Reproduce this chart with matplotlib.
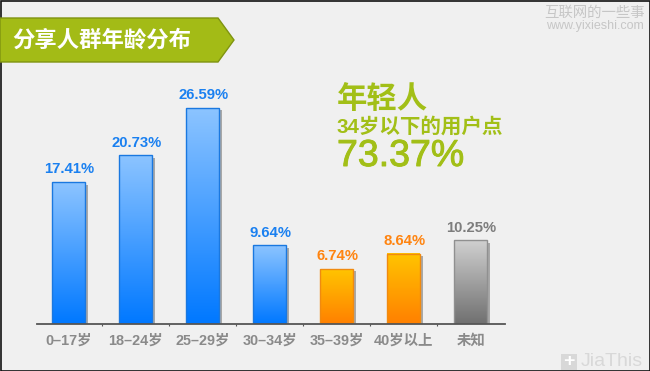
import matplotlib
matplotlib.use("Agg")
import matplotlib.pyplot as plt
import matplotlib.patheffects as pe
from matplotlib.colors import LinearSegmentedColormap
from matplotlib.patches import Polygon, Rectangle
import numpy as np

plt.rcParams['font.family'] = ['Liberation Sans', 'Noto Sans CJK SC', 'DejaVu Sans']

categories = ['0–17岁', '18–24岁', '25–29岁', '30–34岁', '35–39岁', '40岁以上', '未知']
values = [17.41, 20.73, 26.59, 9.64, 6.74, 8.64, 10.25]
groups = ['blue', 'blue', 'blue', 'blue', 'orange', 'orange', 'gray']

top_colors = {'blue': '#8cc4ff', 'orange': '#ffc400', 'gray': '#d0d0d0'}
bottom_colors = {'blue': '#0078ff', 'orange': '#ff8000', 'gray': '#707070'}
edge_colors = {'blue': '#1a78e0', 'orange': '#f08a10', 'gray': '#909090'}
label_colors = {'blue': '#1a80f0', 'orange': '#ff8410', 'gray': '#7d7d7d'}

W, H = 650, 371
fig = plt.figure(figsize=(W / 100, H / 100), dpi=100, facecolor='#f0f0f0')

# overlay in pixel coordinates for the decorations
bg = fig.add_axes([0, 0, 1, 1])
bg.set_xlim(0, W)
bg.set_ylim(H, 0)
bg.axis('off')
bg.add_patch(Rectangle((0.5, 0.5), W - 1, H - 1, fill=False, ec='#111111', lw=1.2))

bg.add_patch(Polygon([(0, 18), (218, 18), (234, 40), (218, 62), (0, 62)],
                     fc='#a3bb16', ec='#7f9410', lw=1))
bg.text(12.5, 40.5, '分享人群年龄分布', color='white', fontsize=16.1, fontweight='bold',
        va='center', ha='left')

green = '#a2bf17'
bg.text(337, 99.5, '年轻人', color=green, fontsize=21.9, fontweight='bold', va='center')
bg.text(336.5, 126.5, '34岁以下的用户点', color=green, fontsize=14.8, fontweight='bold', va='center')
bg.text(337, 156, '73.37%', color=green, fontsize=27, va='center',
        path_effects=[pe.withStroke(linewidth=0.7, foreground=green)])

bg.text(645, 12.5, '互联网的一些事', color='#c6c6c6', fontsize=10.4, va='center', ha='right')
bg.text(644, 26, 'www.yixieshi.com', color='#c6c6c6', fontsize=9.0, va='center', ha='right')

bg.add_patch(Rectangle((561, 354), 16, 16, fc='#d8d8d8', ec='none'))
bg.text(569, 361.5, '+', color='white', fontsize=14, fontweight='bold', va='center', ha='center')
bg.text(581, 362, 'JiaThis', color='#d8d8d8', fontsize=14, va='center', ha='left')

# chart axes: baseline at y=323.7, 8.12 px per percent, 67 px between bars
left, right, base, top = 37, 505, 323.7, 60
ax = fig.add_axes([left / W, 1 - base / H, (right - left) / W, (base - top) / H])
ax.patch.set_alpha(0)

x = np.arange(len(values))
bars = ax.bar(x, values, width=33 / 67, color='none', zorder=2)
for b, v, g in zip(bars, values, groups):
    x0 = b.get_x()
    x1 = x0 + b.get_width()
    # shadow
    ax.bar(x0 + b.get_width() / 2 + 3 / 67, v - 0.3, width=33 / 67, color='#a8a8a8', zorder=1)
    cmap = LinearSegmentedColormap.from_list(g, [top_colors[g], bottom_colors[g]])
    grad = np.linspace(0, 1, 128).reshape(-1, 1)
    ax.imshow(grad, extent=(x0, x1, 0, v), cmap=cmap, aspect='auto', origin='upper', zorder=2)
    b.set_edgecolor(edge_colors[g])
    b.set_linewidth(1)
    b.set_zorder(3)
    ax.text(x0 + b.get_width() / 2 + 0.01, v + 0.72, f'{v:.2f}%', color=label_colors[g], fontsize=10.7,
            fontweight='bold', ha='center', va='bottom')

ax.set_xlim((left - 68.8) / 67, (right - 68.8) / 67)
ax.set_ylim(0, (base - top) / 8.12)

for s in ['top', 'left', 'right']:
    ax.spines[s].set_visible(False)
ax.spines['bottom'].set_color('#555555')
ax.spines['bottom'].set_linewidth(1.3)
ax.spines['bottom'].set_zorder(5)
ax.set_yticks([])
ax.set_xticks(x)
ax.set_xticklabels(categories, color='#8a8a8a', fontsize=10.4, fontweight='bold')
ax.tick_params(axis='x', length=0, pad=7)
ax.set_xticks(x[:-1] + 0.5, minor=True)
ax.tick_params(axis='x', which='minor', length=1.5, color='#555555', width=0.8)

fig.savefig('out.png', dpi=100, facecolor=fig.get_facecolor())
